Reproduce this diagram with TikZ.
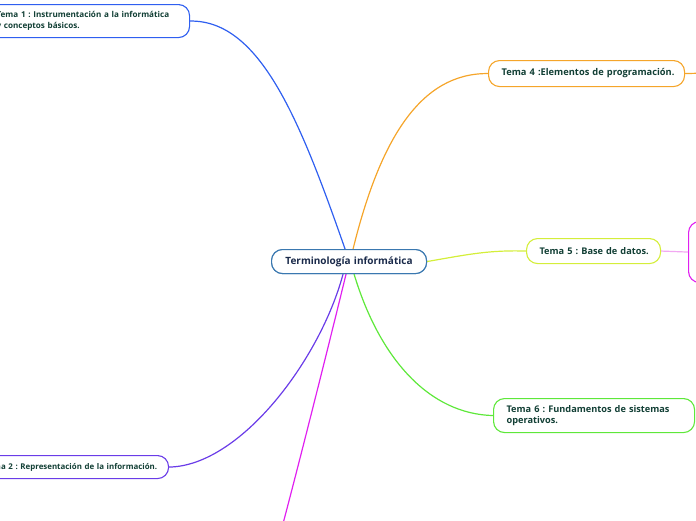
\documentclass[tikz,border=0pt]{standalone}
\usepackage{fontspec}
\setmainfont{Open Sans}
\definecolor{cblue}{HTML}{2F5FF0}
\definecolor{ccen}{HTML}{3A78B0}
\definecolor{corange}{HTML}{F5A52A}
\definecolor{cyellow}{HTML}{D4EE3A}
\definecolor{cgreen}{HTML}{5EE83A}
\definecolor{cpurple}{HTML}{6A3CE8}
\definecolor{cmag}{HTML}{E020F0}
\definecolor{cpink}{HTML}{F2A8F2}
\definecolor{ctext}{HTML}{123F35}
\definecolor{cnavy}{HTML}{1A2A4A}
\tikzset{
  topic/.style={draw, rounded corners=11pt, line width=1.1pt, fill=white, anchor=north west,
    inner sep=0pt, align=left, font=\bfseries\fontsize{9.2}{11.5}\selectfont, text=ctext},
  link/.style={line width=1.2pt},
}
\hbadness=10000 \hfuzz=1000pt
\begin{document}
\frenchspacing
\begin{tikzpicture}[x=1pt,y=-1pt]
\useasboundingbox (0,0) rectangle (696,520);
\clip (0,0) rectangle (696,520);
% off-canvas endpoints
\coordinate (t3) at (280,535);
\coordinate (t4r) at (710,73);
% central
\node[topic, draw=ccen, text=cnavy, font=\bfseries\fontsize{10}{12}\selectfont,
  minimum width=155pt, minimum height=24pt, text width=131pt, align=center] (c) at (271,249) {\mbox{Terminología informática}};
% Tema 1
\node[topic, draw=cblue, minimum width=209pt, minimum height=33pt, text width=177pt,
  font=\bfseries\fontsize{8.1}{10.8}\selectfont] (t1) at (-20,4) {\mbox{Tema 1 : Instrumentación a la informática}\\\mbox{y conceptos básicos.}};
% Tema 2
\node[topic, draw=cpurple, minimum width=198pt, minimum height=23pt, text width=170pt,
  font=\bfseries\fontsize{7.9}{10}\selectfont] (t2) at (-30,455) {\mbox{Tema 2 : Representación de la información.}};
% Tema 4
\node[topic, draw=corange, minimum width=196pt, minimum height=26pt, text width=170pt,
  font=\bfseries\fontsize{9.3}{11.5}\selectfont] (t4) at (488,60) {\mbox{Tema 4 :Elementos de programación.}};
% Tema 5
\node[topic, draw=cyellow, minimum width=134pt, minimum height=25pt, text width=108pt] (t5) at (526,238) {\mbox{Tema 5 : Base de datos.}};
% Tema 6
\node[topic, draw=cgreen, minimum width=201pt, minimum height=34pt, text width=175pt] (t6) at (493,398) {\mbox{Tema 6 : Fundamentos de sistemas}\\\mbox{operativos.}};
% pink child (mostly off canvas)
\node[topic, draw=cmag, minimum width=60pt, minimum height=61pt] (p5) at (688,221) {};
% connectors
\draw[link, cblue] ([xshift=-4pt]c.north) .. controls (300,120) and (260,20) .. (t1.east);
\draw[link, corange] ([xshift=4pt]c.north) .. controls (380,140) and (420,73) .. (t4.west);
\draw[link, cyellow] (c.east) .. controls (470,254) and (490,250) .. (t5.west);
\draw[link, cgreen] ([xshift=5pt]c.south) .. controls (380,360) and (430,414) .. (t6.west);
\draw[link, cpurple] ([xshift=-6pt]c.south) .. controls (320,360) and (240,466) .. (t2.east);
\draw[link, cmag] ([xshift=-3pt]c.south) .. controls (330,340) and (300,460) .. (t3);
\draw[link, cpink] (t5.east) -- (p5.west);
\draw[link, corange] (t4.east) -- (t4r);
% redraw central node on top of its connectors
\node[topic, draw=ccen, text=cnavy, font=\bfseries\fontsize{10}{12}\selectfont,
  minimum width=155pt, minimum height=24pt, text width=131pt, align=center] at (271,249) {\mbox{Terminología informática}};
\end{tikzpicture}
\end{document}
